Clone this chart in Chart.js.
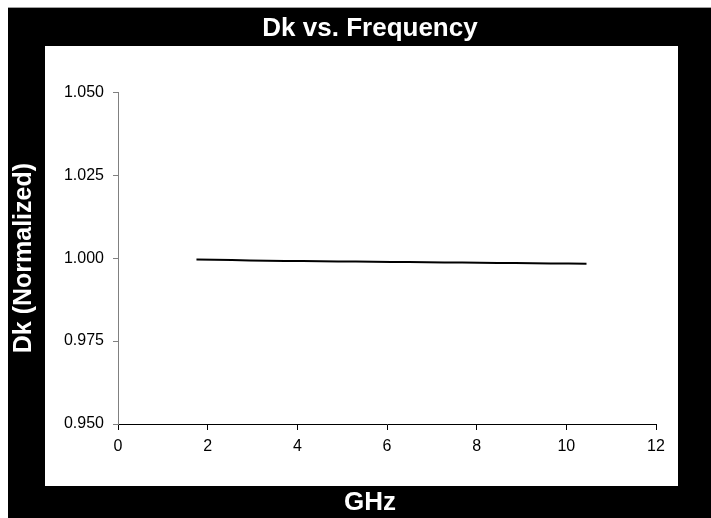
<!DOCTYPE html>
<html>
<head>
<meta charset="utf-8">
<script src="https://cdn.jsdelivr.net/npm/chart.js@4/dist/chart.umd.min.js"></script>
<style>
  html, body { margin: 0; padding: 0; background: #ffffff; }
  canvas { display: block; }
</style>
</head>
<body>
<canvas id="dkChart" width="711" height="518"></canvas>
<script>
const freqGHz = [1.75, 2.54, 3.33, 4.12, 4.91, 5.70, 6.49, 7.28, 8.07, 8.86, 9.65, 10.45];
const dkNormalized = [0.9996, 0.9994, 0.9992, 0.9991, 0.9990, 0.9989, 0.9988, 0.9987, 0.9986, 0.9985, 0.9984, 0.9983];
const yTicks = [0.950, 0.975, 1.000, 1.025, 1.050];
const xTicks = [0, 2, 4, 6, 8, 10, 12];

const FONT = 'Liberation Sans, Arial, sans-serif';

//Black frame with white panel behind the plot
const framePlugin = {
  id: 'frame',
  beforeDraw(chart) {
    const ctx = chart.ctx;
    ctx.save();
    ctx.fillStyle = '#a0a0a0';
    ctx.fillRect(8, 7, 703, 1);
    ctx.fillStyle = '#000000';
    ctx.fillRect(8, 8, 703, 510);
    ctx.fillStyle = '#ffffff';
    ctx.fillRect(45, 46, 633, 440);
    ctx.restore();
  }
};

document.addEventListener('DOMContentLoaded', function () {
  const ctx = document.getElementById('dkChart').getContext('2d');
  new Chart(ctx, {
    type: 'line',
    data: {
      datasets: [{
        label: 'Dk',
        data: freqGHz.map((f, i) => ({ x: f, y: dkNormalized[i] })),
        borderColor: '#000000',
        borderWidth: 2,
        pointRadius: 0,
        tension: 0.2,
        fill: false
      }]
    },
    options: {
      responsive: false,
      animation: false,
      devicePixelRatio: 1,
      layout: {
        padding: { left: 0, right: -29, top: 0, bottom: 0 }  //shifts centre of titles to the frame middle
      },
      plugins: {
        legend: { display: false },
        tooltip: { enabled: false },
        title: {
          display: true,
          text: 'Dk vs. Frequency',
          color: '#ffffff',
          font: { family: FONT, size: 26, weight: 'bold' },
          padding: { top: 13, bottom: 48 }
        },
        subtitle: {
          display: true,
          position: 'bottom',
          text: 'GHz',
          color: '#ffffff',
          font: { family: FONT, size: 26, weight: 'bold' },
          padding: { top: 4, bottom: 0 }
        }
      },
      scales: {
        x: {
          type: 'linear',
          min: 0,
          max: 12,
          afterFit(scale) { scale.height = 58.8; },
          afterBuildTicks(scale) { scale.ticks = xTicks.map(v => ({ value: v })); },
          border: { display: true, color: '#000000', width: 1 },
          grid: { drawOnChartArea: false, drawTicks: true, tickLength: 6, color: '#000000' },
          ticks: {
            color: '#000000',
            padding: 7,
            maxRotation: 0,
            font: { family: FONT, size: 16 }
          }
        },
        y: {
          min: 0.95,
          max: 1.05,
          afterFit(scale) { scale.width = 118; },
          afterBuildTicks(scale) { scale.ticks = yTicks.map(v => ({ value: v })); },
          border: { display: true, color: '#808080', width: 1 },
          grid: { drawOnChartArea: false, drawTicks: true, tickLength: 5, color: '#808080' },
          ticks: {
            color: '#000000',
            padding: 9,
            font: { family: FONT, size: 16 },
            callback: function (value) { return Number(value).toFixed(3); }
          },
          title: {
            display: true,
            text: 'Dk (Normalized)',
            color: '#ffffff',
            font: { family: FONT, size: 25, weight: 'bold' },
            padding: { top: 9, bottom: 0 }
          }
        },
        y2: {
          position: 'right',
          afterFit(scale) { scale.width = 84; },  //keeps the plot right edge at x=12
          border: { display: false },
          grid: { display: false },
          ticks: { display: false }
        }
      }
    },
    plugins: [framePlugin]
  });
});
</script>
</body>
</html>
